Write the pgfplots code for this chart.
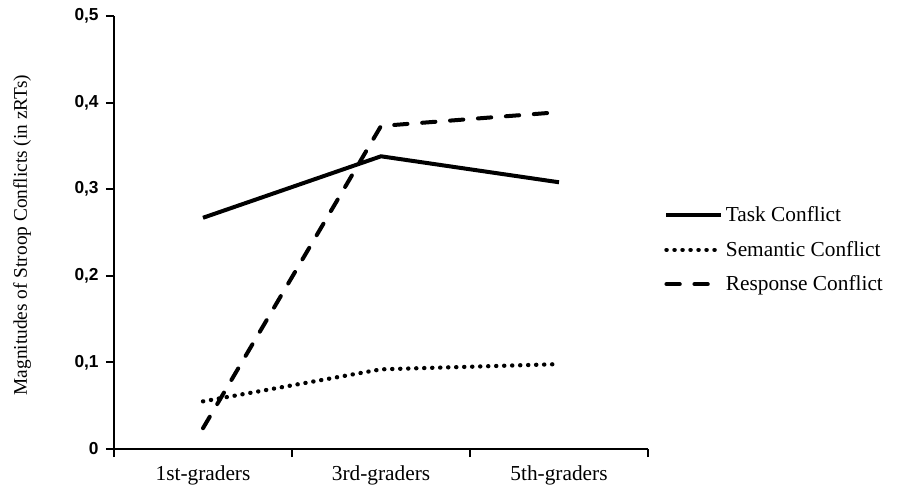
\documentclass[border=0pt]{standalone}
\usepackage{fontspec}
\setmainfont{Liberation Serif}
\newfontfamily\arialb{Liberation Sans}
\usepackage{pgfplots}
\pgfplotsset{compat=1.18}
\begin{document}
\begin{tikzpicture}
\useasboundingbox (-85.5pt,-33pt) rectangle (588pt,336.75pt);
\begin{axis}[
  at={(0pt,0pt)}, anchor=south west,
  scale only axis, width=400.5pt, height=324.75pt,
  xmin=0, xmax=3, ymin=0, ymax=0.5,
  axis x line*=bottom, axis y line*=left,
  axis line style={line width=1.6pt, -},
  xtick={0.5,1.5,2.5},
  xticklabels={1st-graders,3rd-graders,5th-graders},
  minor xtick={0,1,2,3},
  major x tick style={draw=none},
  minor x tick style={black, line width=1.6pt},
  minor tick length=6pt,
  ytick={0,0.1,0.2,0.3,0.4,0.5},
  y tick style={black, line width=1.6pt},
  major tick length=6pt,
  tick align=outside,
  x tick label style={font=\fontsize{16}{19}\selectfont, yshift=-3pt},
  y tick label style={font=\arialb\bfseries\fontsize{13}{15}\selectfont, xshift=-2pt},
  /pgf/number format/assume math mode=true,
  /pgf/number format/use comma,
  /pgf/number format/fixed,
  /pgf/number format/precision=1,
  ylabel={Magnitudes of Stroop Conflicts (in zRTs)},
  ylabel style={at={(axis description cs:-0.172,0.494)}, anchor=center, font=\fontsize{14.5}{17}\selectfont},
  legend style={at={(axis description cs:1.03,0.46)}, anchor=west, draw=none, fill=none,
    font=\fontsize{16}{19}\selectfont, row sep=9pt, inner sep=0pt},
  legend cell align=left,
  legend image code/.code={\draw[#1] (0pt,0pt) -- (41pt,0pt);},
  clip=false,
]
\addplot[black, line width=3pt] coordinates {(0.5,0.267) (1.5,0.338) (2.5,0.308)};
\addlegendentry{Task Conflict}
\addplot[black, line width=3.2pt, line cap=round, dash pattern=on 0.2pt off 5.8pt] coordinates {(0.5,0.055) (1.5,0.092) (2.5,0.098)};
\addlegendentry{Semantic Conflict}
\addplot[black, line width=3pt, line cap=round, dash pattern=on 10pt off 11pt] coordinates {(0.5,0.024) (1.5,0.373) (2.5,0.389)};
\addlegendentry{Response Conflict}
\end{axis}
\end{tikzpicture}
\end{document}
